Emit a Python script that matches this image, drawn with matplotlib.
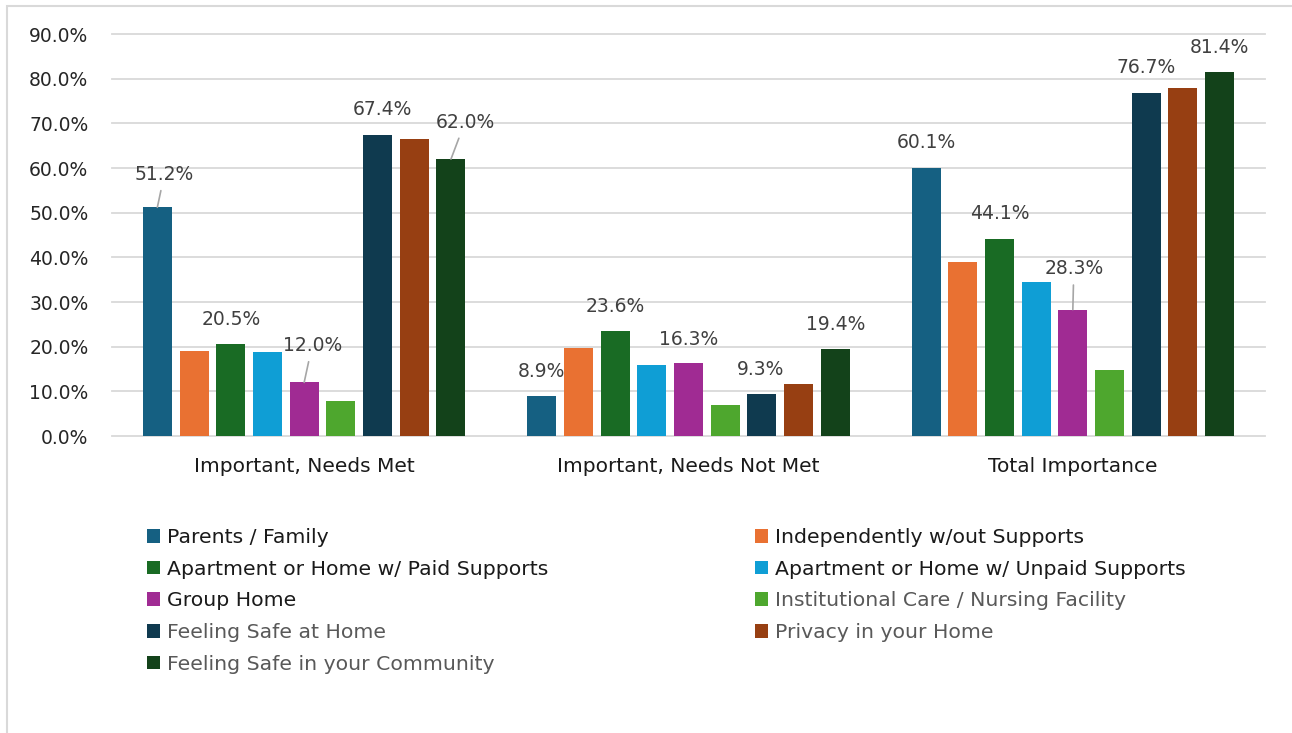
import matplotlib
matplotlib.use("Agg")
import matplotlib.pyplot as plt
from matplotlib.patches import Rectangle, Patch
import numpy as np

# ---- data -------------------------------------------------------------
categories = ["Important, Needs Met", "Important, Needs Not Met", "Total Importance"]

series_names = [
    "Parents / Family",
    "Independently w/out Supports",
    "Apartment or Home w/ Paid Supports",
    "Apartment or Home w/ Unpaid Supports",
    "Group Home",
    "Institutional Care / Nursing Facility",
    "Feeling Safe at Home",
    "Privacy in your Home",
    "Feeling Safe in your Community",
]

parents_family = [51.2, 8.9, 60.1]
independently = [19.1, 19.8, 38.9]
paid_supports = [20.5, 23.6, 44.1]
unpaid_supports = [18.7, 15.9, 34.5]
group_home = [12.0, 16.3, 28.3]
institutional = [7.8, 7.0, 14.8]
safe_home = [67.4, 9.3, 76.7]
privacy_home = [66.4, 11.6, 77.9]
safe_community = [62.0, 19.4, 81.4]

series_values = [parents_family, independently, paid_supports, unpaid_supports,
                 group_home, institutional, safe_home, privacy_home, safe_community]

y_ticks = [0, 10, 20, 30, 40, 50, 60, 70, 80, 90]

colors = ["#156082", "#E97132", "#196B24", "#0F9ED5", "#A02B93",
          "#4EA72E", "#0F3A4F", "#973F12", "#13421A"]

# which bars carry a value label: (category, series) -> (dx, dy) offset in pixels, leader line
labelled = {
    (0, 0): (7, 33, True),
    (0, 2): (0, 25, False),
    (0, 4): (8, 37, True),
    (0, 6): (5, 25, False),
    (0, 8): (14, 37, True),
    (1, 0): (0, 25, False),
    (1, 2): (0, 24, False),
    (1, 4): (0, 24, False),
    (1, 6): (-1, 25, False),
    (1, 8): (0, 25, False),
    (2, 0): (0, 25, False),
    (2, 2): (0, 26, False),
    (2, 4): (1, 41, True),
    (2, 6): (0, 26, False),
    (2, 8): (0, 25, False),
}

# ---- figure -----------------------------------------------------------
W, H = 1292, 733
fig = plt.figure(figsize=(W / 100, H / 100), dpi=100)
plt.rcParams["font.family"] = ["DejaVu Sans"]

# outer chart frame
fig.patches.append(Rectangle((7 / W, -0.05), 1.2, 1.05 - 5.5 / H,
                             transform=fig.transFigure, fill=False,
                             edgecolor="#D9D9D9", linewidth=1.5))

ax = fig.add_axes([112 / W, 1 - 436 / H, (1265 - 112) / W, (436 - 34) / H])

n_series = len(series_names)
step = 0.0955
width = 0.0755
x = np.arange(len(categories))

bars = []
for i, (vals, col) in enumerate(zip(series_values, colors)):
    offs = (i - (n_series - 1) / 2) * step
    b = ax.bar(x + offs, vals, width=width, color=col, zorder=3)
    bars.append(b)

# value labels
for (g, s), (dx, dy, leader) in labelled.items():
    rect = bars[s][g]
    v = series_values[s][g]
    xc = rect.get_x() + rect.get_width() / 2
    kw = {}
    if leader:
        kw["arrowprops"] = dict(arrowstyle="-", color="#A6A6A6", lw=1.2,
                                shrinkA=3, shrinkB=0)
    ax.annotate(f"{v:.1f}%", xy=(xc, v), xytext=(dx, dy),
                textcoords="offset pixels", ha="center", va="center",
                fontsize=13.5, color="#404040", annotation_clip=False,
                zorder=5, **kw)

ax.set_xlim(-0.5, 2.5)
ax.set_ylim(0, 90)
ax.set_yticks(y_ticks)
ax.set_yticklabels([f"{t:.1f}%" for t in y_ticks], fontsize=13.5, color="#262626")
ax.set_xticks(x)
ax.set_xticklabels(categories, fontsize=14.5, color="#1A1A1A")
ax.tick_params(axis="y", length=0, pad=17)
ax.tick_params(axis="x", length=0, pad=15)
ax.grid(axis="y", color="#D9D9D9", linewidth=1.3, zorder=0)
for gl in ax.get_ygridlines():
    gl.set_clip_on(False)
ax.set_axisbelow(True)
for sp in ax.spines.values():
    sp.set_visible(False)

# legend in two columns
def legend_column(indices, x_px, text_colors):
    handles = [Patch(facecolor=colors[i]) for i in indices]
    labels = [series_names[i] for i in indices]
    leg = fig.legend(handles, labels, loc="upper left",
                     bbox_to_anchor=(x_px / W, 1 - 528 / H),
                     frameon=False, fontsize=14.7,
                     handlelength=0.65, handleheight=0.65,
                     handletextpad=0.33, labelspacing=0.62,
                     borderaxespad=0, borderpad=0)
    for t, c in zip(leg.get_texts(), text_colors):
        t.set_color(c)
    return leg

dark, grey = "#1A1A1A", "#595959"
legend_column([0, 2, 4, 6, 8], 147, [dark, dark, dark, grey, grey])
legend_column([1, 3, 5, 7], 755, [dark, dark, grey, grey])

fig.savefig("out.png", dpi=100)
